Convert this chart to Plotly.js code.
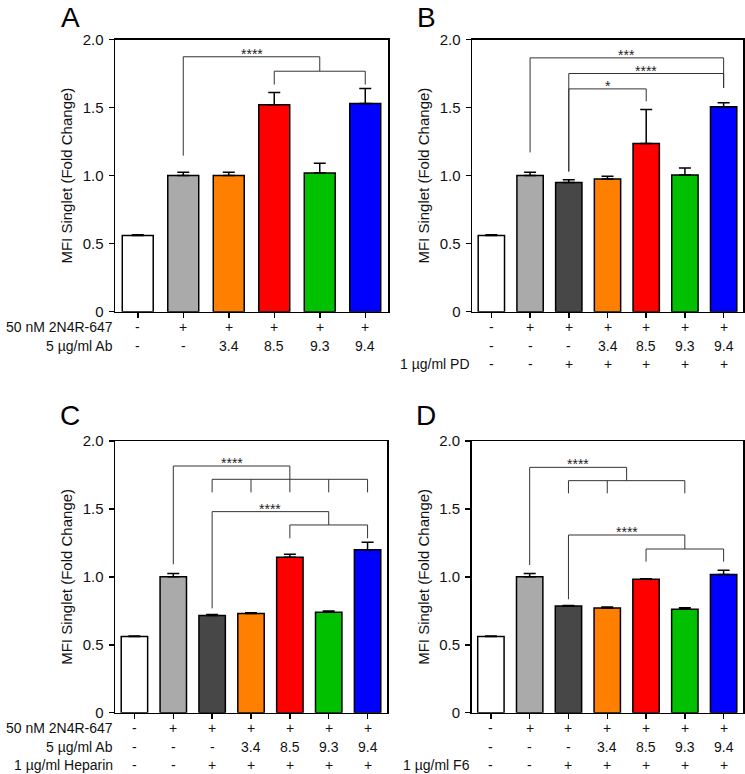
<!DOCTYPE html>
<html>
<head>
<meta charset="utf-8">
<script src="https://cdn.plot.ly/plotly-3.0.1.min.js"></script>
<style>html,body{margin:0;padding:0;background:#fff;}#chart{width:745px;height:774px;}</style>
</head>
<body>
<div id="chart"></div>
<script>
// ---------- data ----------
const categoriesA = ['Cells', '2N4R', 'Ab 3.4', 'Ab 8.5', 'Ab 9.3', 'Ab 9.4'];
const categoriesB = ['Cells', '2N4R', 'PD', 'PD+3.4', 'PD+8.5', 'PD+9.3', 'PD+9.4'];
const categoriesC = ['Cells', '2N4R', 'Heparin', 'Hep+3.4', 'Hep+8.5', 'Hep+9.3', 'Hep+9.4'];
const categoriesD = ['Cells', '2N4R', 'F6', 'F6+3.4', 'F6+8.5', 'F6+9.3', 'F6+9.4'];

const valuesA = [0.56, 1.00, 1.00, 1.52, 1.02, 1.53];
const errorsA = [0.005, 0.025, 0.025, 0.09, 0.07, 0.11];
const valuesB = [0.56, 1.00, 0.95, 0.975, 1.235, 1.005, 1.505];
const errorsB = [0.005, 0.025, 0.02, 0.02, 0.25, 0.05, 0.03];
const valuesC = [0.56, 1.00, 0.715, 0.73, 1.145, 0.74, 1.20];
const errorsC = [0.005, 0.025, 0.008, 0.005, 0.022, 0.008, 0.055];
const valuesD = [0.56, 1.00, 0.785, 0.77, 0.982, 0.762, 1.018];
const errorsD = [0.005, 0.025, 0.004, 0.008, 0.004, 0.01, 0.03];

const colorsA = ['#ffffff', '#aaaaaa', '#ff8000', '#ff0000', '#00c000', '#0000ff'];
const colorsBCD = ['#ffffff', '#aaaaaa', '#474747', '#ff8000', '#ff0000', '#00c000', '#0000ff'];

const yTickVals = [0, 0.5, 1.0, 1.5, 2.0];
const yTickText = ['0', '0.5', '1.0', '1.5', '2.0'];

// rows of condition labels under each panel: [label, values per bar]
const rowsA = [
  ['50 nM 2N4R-647', ['-', '+', '+', '+', '+', '+']],
  ['5 \u00b5g/ml Ab', ['-', '-', '3.4', '8.5', '9.3', '9.4']]
];
const rowsB = [
  ['', ['-', '+', '+', '+', '+', '+', '+']],
  ['', ['-', '-', '-', '3.4', '8.5', '9.3', '9.4']],
  ['1 \u00b5g/ml PD', ['-', '-', '+', '+', '+', '+', '+']]
];
const rowsC = [
  ['50 nM 2N4R-647', ['-', '+', '+', '+', '+', '+', '+']],
  ['5 \u00b5g/ml Ab', ['-', '-', '-', '3.4', '8.5', '9.3', '9.4']],
  ['1 \u00b5g/ml Heparin', ['-', '-', '+', '+', '+', '+', '+']]
];
const rowsD = [
  ['', ['-', '+', '+', '+', '+', '+', '+']],
  ['', ['-', '-', '-', '3.4', '8.5', '9.3', '9.4']],
  ['1 \u00b5g/ml F6', ['-', '-', '+', '+', '+', '+', '+']]
];

// significance brackets: [from, to, level, legs [[x, bottom], ...]]
const bracketsA = [
  [1, 4, 1.873, [[1, 1.146], [4, 1.767]]],
  [3, 5, 1.767, [[3, 1.669], [5, 1.669]]]
];
const starsA = [['****', 2.5, 1.873]];
const bracketsB = [
  [1, 6, 1.865, [[1, 1.17], [6, 1.644]]],
  [2, 6, 1.750, [[2, 1.03], [6, 1.644]]],
  [2, 4, 1.637, [[2, 1.03], [4, 1.546]]]
];
const starsB = [['***', 3.5, 1.865], ['****', 4, 1.750], ['*', 3, 1.637]];
const bracketsC = [
  [1, 4, 1.816, [[1, 1.092], [4, 1.718]]],
  [2, 6, 1.718, [[2, 1.622], [3, 1.622], [4, 1.622], [5, 1.622], [6, 1.622]]],
  [2, 5, 1.480, [[2, 0.768], [5, 1.382]]],
  [4, 6, 1.382, [[4, 1.284], [6, 1.284]]]
];
const starsC = [['****', 2.5, 1.816], ['****', 3.5, 1.480]];
const bracketsD = [
  [1, 3.5, 1.806, [[1, 1.087], [3.5, 1.708]]],
  [2, 5, 1.708, [[2, 1.615], [3, 1.615], [5, 1.615]]],
  [2, 5, 1.308, [[2, 0.835], [5, 1.205]]],
  [4, 6, 1.205, [[4, 1.112], [6, 1.112]]]
];
const starsD = [['****', 2.25, 1.806], ['****', 3.5, 1.308]];

// ---------- layout helpers ----------
const W = 745, H = 774;
const FONT = 'Liberation Sans, Arial, Helvetica, sans-serif';
const FS = 15;
const FS_ROW = 14;
const panels = [
  {letter: 'A', cats: categoriesA, vals: valuesA, errs: errorsA, colors: colorsA, rows: rowsA, brackets: bracketsA, stars: starsA,
   xd: [115, 388], yd: [39.5, 311.7], letterPos: [70, 0], titleX: 67},
  {letter: 'B', cats: categoriesB, vals: valuesB, errs: errorsB, colors: colorsBCD, rows: rowsB, brackets: bracketsB, stars: starsB,
   xd: [472, 743], yd: [39.5, 311.7], letterPos: [426, 0], titleX: 424},
  {letter: 'C', cats: categoriesC, vals: valuesC, errs: errorsC, colors: colorsBCD, rows: rowsC, brackets: bracketsC, stars: starsC,
   xd: [115, 387], yd: [441, 712.7], letterPos: [70, 398], titleX: 67},
  {letter: 'D', cats: categoriesD, vals: valuesD, errs: errorsD, colors: colorsBCD, rows: rowsD, brackets: bracketsD, stars: starsD,
   xd: [471.5, 743], yd: [441, 712.7], letterPos: [426, 398], titleX: 424}
];
const rowOffsets = [15.5, 34, 52.5];

const data = [];
const layout = {
  width: W, height: H,
  margin: {l: 0, r: 0, t: 0, b: 0},
  paper_bgcolor: '#ffffff', plot_bgcolor: '#ffffff',
  showlegend: false,
  font: {family: FONT, size: FS, color: '#111'},
  annotations: [], shapes: []
};

panels.forEach((p, i) => {
  const n = i + 1;
  const xa = n === 1 ? 'x' : 'x' + n;
  const ya = n === 1 ? 'y' : 'y' + n;
  const xKey = n === 1 ? 'xaxis' : 'xaxis' + n;
  const yKey = n === 1 ? 'yaxis' : 'yaxis' + n;
  const xDom = [p.xd[0] / W, p.xd[1] / W];
  const yDom = [1 - p.yd[1] / H, 1 - p.yd[0] / H];

  data.push({
    type: 'bar', x: p.cats, y: p.vals, xaxis: xa, yaxis: ya,
    width: 0.68,
    marker: {color: p.colors, line: {color: '#000', width: 1.5}},
    error_y: {type: 'data', array: p.errs, arrayminus: p.errs.map(() => 0), symmetric: false,
              color: '#000', thickness: 1.5, width: 6},
    hoverinfo: 'skip'
  });

  layout[xKey] = {
    domain: xDom, anchor: ya, type: 'category',
    range: [-0.5, p.cats.length - 0.5], fixedrange: true,
    showline: true, linecolor: '#000', linewidth: 1.5, mirror: true,
    ticks: 'outside', ticklen: 5, tickwidth: 1.5, tickcolor: '#000',
    showticklabels: false, showgrid: false, zeroline: false
  };
  layout[yKey] = {
    domain: yDom, anchor: xa, range: [0, 2], fixedrange: true,
    tickvals: yTickVals, ticktext: yTickText,
    showline: true, linecolor: '#000', linewidth: 1.5, mirror: true,
    ticks: 'outside', ticklen: 5, tickwidth: 1.5, tickcolor: '#000',
    ticklabelstandoff: 2,
    tickfont: {family: FONT, size: FS, color: '#111'},
    showgrid: false, zeroline: false
  };

  // panel letter
  layout.annotations.push({
    xref: 'paper', yref: 'paper', x: p.letterPos[0] / W, y: 1 - p.letterPos[1] / H,
    xanchor: 'center', yanchor: 'top', showarrow: false,
    text: p.letter, font: {family: FONT, size: 28, color: '#000'}
  });
  // y title
  layout.annotations.push({
    xref: 'paper', yref: 'paper', x: p.titleX / W, y: (yDom[0] + yDom[1]) / 2,
    xanchor: 'center', yanchor: 'middle', showarrow: false, textangle: -90,
    text: 'MFI Singlet (Fold Change)', font: {family: FONT, size: FS, color: '#111'}
  });
  // condition rows
  p.rows.forEach((row, r) => {
    if (row[0]) {
      layout.annotations.push({
        xref: 'paper', yref: 'paper', x: xDom[0], y: yDom[0], yshift: -rowOffsets[r],
        xanchor: 'right', yanchor: 'middle', showarrow: false,
        text: row[0], font: {family: FONT, size: FS_ROW, color: '#111'}
      });
    }
    row[1].forEach((v, k) => {
      layout.annotations.push({
        xref: xa, yref: 'paper', x: k, y: yDom[0], yshift: -rowOffsets[r],
        xanchor: 'center', yanchor: 'middle', showarrow: false,
        text: v, font: {family: FONT, size: FS_ROW, color: '#111'}
      });
    });
  });
  // brackets
  p.brackets.forEach(b => {
    layout.shapes.push({type: 'line', xref: xa, yref: ya, x0: b[0], x1: b[1], y0: b[2], y1: b[2],
                        line: {color: '#333', width: 1}});
    b[3].forEach(l => {
      layout.shapes.push({type: 'line', xref: xa, yref: ya, x0: l[0], x1: l[0], y0: b[2], y1: l[1],
                          line: {color: '#333', width: 1}});
    });
  });
  p.stars.forEach(s => {
    layout.annotations.push({
      xref: xa, yref: ya, x: s[1], y: s[2], yshift: 3,
      xanchor: 'center', yanchor: 'middle', showarrow: false,
      text: s[0], font: {family: FONT, size: 14, color: '#222'}
    });
  });
});

Plotly.newPlot('chart', data, layout, {staticPlot: true, displayModeBar: false});
</script>
</body>
</html>
